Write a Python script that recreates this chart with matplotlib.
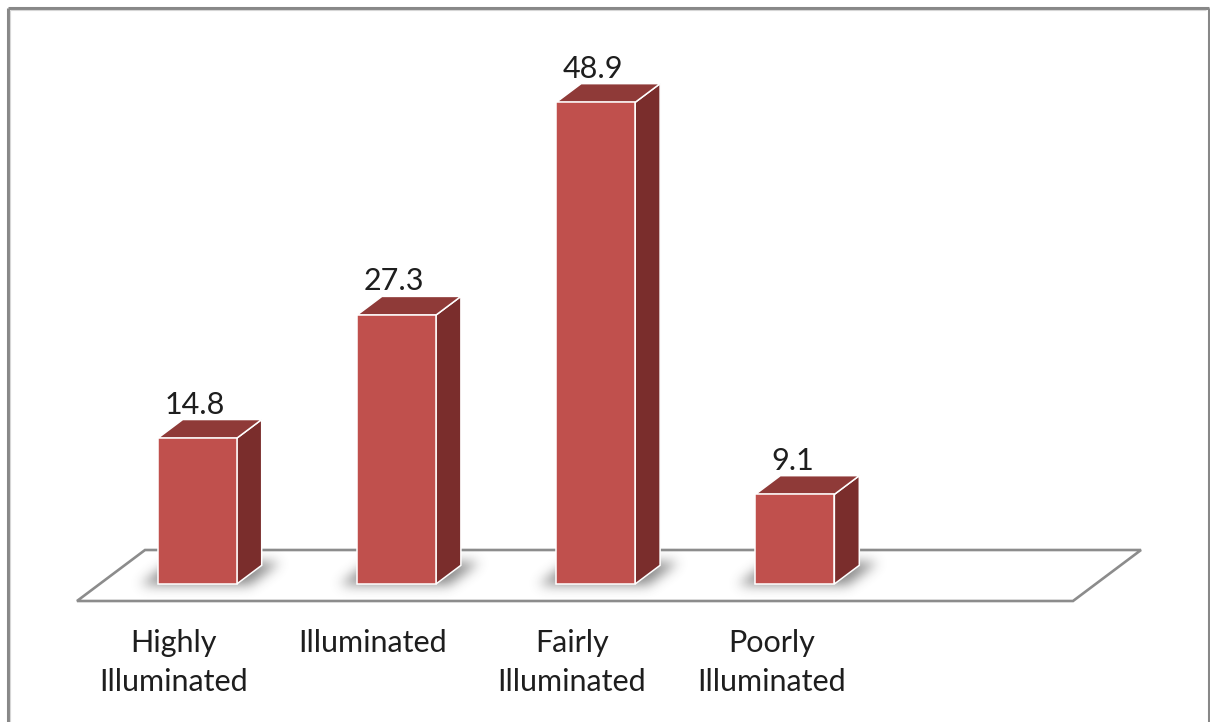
import numpy as np
import matplotlib
matplotlib.use("Agg")
import matplotlib.pyplot as plt
from matplotlib.patches import Polygon
from matplotlib.lines import Line2D
from matplotlib.path import Path

# ---- data ----
categories = ["Highly\nIlluminated", "Illuminated", "Fairly\nIlluminated", "Poorly\nIlluminated"]
values = [14.8, 27.3, 48.9, 9.1]
value_labels = ["14.8", "27.3", "48.9", "9.1"]
n_slots = 5  # the floor leaves room for one more category

# ---- canvas ----
W, H, DPI = 1210, 722, 100
fig = plt.figure(figsize=(W / DPI, H / DPI), dpi=DPI)
fig.patch.set_facecolor("white")
ax = fig.add_axes([0, 0, 1, 1])

# pixel scale of one category step and one value unit
PX_X = 199.2
PX_Y = 9.85
X0 = 176.6   # column of category 0 on the floor's front edge
Y0 = 601.0   # row of the floor's front edge (from top)
XLIM = (-X0 / PX_X, (W - X0) / PX_X)
YLIM = ((Y0 - H) / PX_Y, Y0 / PX_Y)

# oblique depth vector spanning the full floor depth (data units)
DX = 68 / PX_X
DY = 51 / PX_Y

FONT = "Lato"
FS = 22
TXT = "#1e1e1e"

FRONT = "#C0504D"
TOP = "#8F3A38"
SIDE = "#7A2D2C"

D_FRONT = 1 / 3
D_BACK = 0.70
HALF_W = 39.5 / PX_X
BAR_SHIFT = -2 / PX_X
LABEL_SHIFT = -3 / PX_X


def depth(x, y, d):
    return (x + d * DX, y + d * DY)


def soft_shadow(poly, sigma_px, alpha_max, color, zorder):
    """Blurred shadow of a polygon given in data coordinates."""
    ax.set_xlim(*XLIM)
    ax.set_ylim(*YLIM)
    pts = ax.transData.transform(np.asarray(poly))
    pad = int(4 * sigma_px)
    x0, y0 = np.floor(pts.min(axis=0)) - pad
    x1, y1 = np.ceil(pts.max(axis=0)) + pad
    xs = np.arange(x0, x1) + 0.5
    ys = np.arange(y0, y1) + 0.5
    gx, gy = np.meshgrid(xs, ys)
    mask = Path(pts).contains_points(np.c_[gx.ravel(), gy.ravel()]).reshape(gx.shape)
    m = mask.astype(float)
    r = int(3 * sigma_px)
    k = np.exp(-0.5 * (np.arange(-r, r + 1) / sigma_px) ** 2)
    k /= k.sum()
    m = np.apply_along_axis(lambda v: np.convolve(v, k, mode="same"), 1, m)
    m = np.apply_along_axis(lambda v: np.convolve(v, k, mode="same"), 0, m)
    rgba = np.zeros(m.shape + (4,))
    rgba[..., :3] = matplotlib.colors.to_rgb(color)
    rgba[..., 3] = m * alpha_max
    inv = ax.transData.inverted()
    (ex0, ey0), (ex1, ey1) = inv.transform([(x0, y0), (x1, y1)])
    ax.imshow(rgba, extent=(ex0, ex1, ey0, ey1), origin="lower",
              interpolation="bilinear", aspect="auto", zorder=zorder)


# ---- floor ----
floor = [(-0.5, 0), (n_slots - 0.5, 0),
         depth(n_slots - 0.5, 0, 1), depth(-0.5, 0, 1)]
ax.add_patch(Polygon(floor, closed=True, facecolor="white",
                     edgecolor="#8C8C8C", lw=1.9, joinstyle="miter", zorder=1))

# ---- bars ----
for i, v in enumerate(values):
    cx = i + D_FRONT * DX + BAR_SHIFT
    by = D_FRONT * DY
    xl, xr = cx - HALF_W, cx + HALF_W

    # soft shadow on the floor around the base
    sx_l, sx_r = xl - 16 / PX_X, xr + 14 / PX_X
    shadow = [depth(sx_l - D_FRONT * DX, 0, D_FRONT - 0.02),
              depth(sx_r - D_FRONT * DX, 0, D_FRONT - 0.02),
              depth(sx_r - D_FRONT * DX, 0, D_BACK + 0.06),
              depth(sx_l - D_FRONT * DX, 0, D_BACK + 0.06)]
    soft_shadow(shadow, 6, 0.6, "#3a3a3a", 2)

    ddx = (D_BACK - D_FRONT) * DX
    ddy = (D_BACK - D_FRONT) * DY
    front = [(xl, by), (xr, by), (xr, by + v), (xl, by + v)]
    side = [(xr, by), (xr + ddx, by + ddy), (xr + ddx, by + ddy + v), (xr, by + v)]
    top = [(xl, by + v), (xr, by + v), (xr + ddx, by + ddy + v), (xl + ddx, by + ddy + v)]
    for face, col in ((side, SIDE), (top, TOP), (front, FRONT)):
        ax.add_patch(Polygon(face, closed=True, facecolor=col, edgecolor="white",
                             lw=1.1, joinstyle="miter", zorder=3))

    ax.text(cx - 2.5 / PX_X, by + ddy + v + 6 / PX_Y, value_labels[i],
            ha="center", va="baseline", fontsize=FS, family=FONT, color=TXT, zorder=4)

# ---- category labels ----
for i, lab in enumerate(categories):
    for k, line in enumerate(lab.split("\n")):
        ax.text(i + LABEL_SHIFT, -(51 + 39 * k) / PX_Y, line, ha="center", va="baseline",
                fontsize=FS, family=FONT, color=TXT, zorder=4)

ax.set_xlim(*XLIM)
ax.set_ylim(*YLIM)
ax.axis("off")

# ---- chart frame ----
def fx(px):
    return px / W


def fy(py):
    return 1 - py / H


for (xa, ya, xb, yb, c, lw) in [
    (7.5, 7.5, 7.5, 740, "#888888", 2.2),
    (7.5, 7.5, 1208.5, 7.5, "#888888", 2.2),
    (1208.5, 7.5, 1208.5, 740, "#888888", 2.2),
    (9.6, 9.6, 9.6, 740, "#D6D6D6", 0.8),
    (9.6, 9.6, 1206.4, 9.6, "#D6D6D6", 0.8),
]:
    fig.add_artist(Line2D([fx(xa), fx(xb)], [fy(ya), fy(yb)], color=c, lw=lw,
                          transform=fig.transFigure, solid_capstyle="butt"))

fig.savefig("out.png", dpi=DPI, facecolor="white")
